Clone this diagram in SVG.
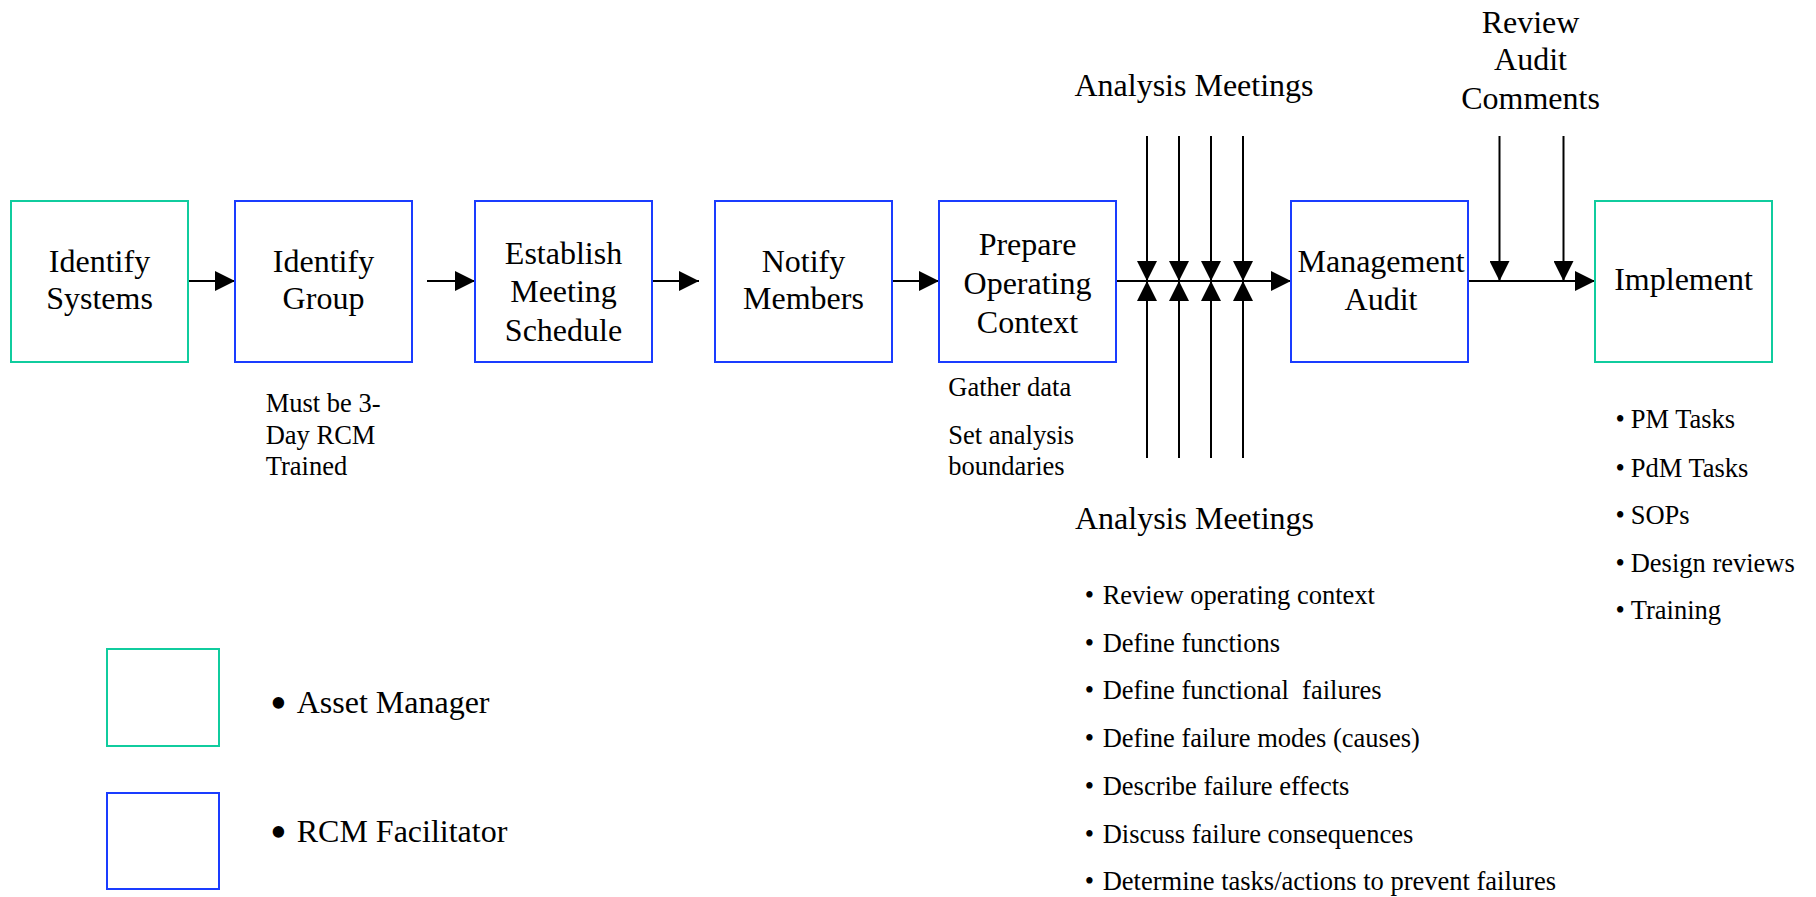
<svg xmlns="http://www.w3.org/2000/svg" width="1816" height="897" viewBox="0 0 1816 897">
  <style>
    text { font-family: "Liberation Serif", "Times New Roman", serif; fill: #000; }
    .big { font-size: 32px; }
    .mid { text-anchor: middle; }
    .note { font-size: 26.5px; }
    .am { fill: #fff; stroke: #10CC9E; stroke-width: 2; }
    .fac { fill: #fff; stroke: #1A3CFF; stroke-width: 2; }
    .wire { stroke: #000; stroke-width: 2; fill: none; marker-end: url(#head); }
  </style>
  <defs>
    <marker id="head" markerUnits="userSpaceOnUse" markerWidth="20" markerHeight="20" refX="20" refY="10" orient="auto" viewBox="0 0 20 20">
      <path d="M0,0 L20,10 L0,20 Z" fill="#000"/>
    </marker>
  </defs>
  <rect width="1816" height="897" fill="#fff"/>

  <!-- connectors -->
  <g id="connectors">
    <line class="wire" x1="188" y1="281" x2="235" y2="281"/>
    <line class="wire" x1="427" y1="281" x2="475" y2="281"/>
    <line class="wire" x1="651" y1="281" x2="699" y2="281"/>
    <line class="wire" x1="892" y1="281" x2="939" y2="281"/>
    <line class="wire" x1="1116" y1="281" x2="1291" y2="281"/>
    <line class="wire" x1="1468" y1="281" x2="1595" y2="281"/>
    <!-- analysis meetings feeding in from above -->
    <line class="wire" x1="1147" y1="136" x2="1147" y2="281"/>
    <line class="wire" x1="1179" y1="136" x2="1179" y2="281"/>
    <line class="wire" x1="1211" y1="136" x2="1211" y2="281"/>
    <line class="wire" x1="1243" y1="136" x2="1243" y2="281"/>
    <!-- analysis meetings feeding in from below -->
    <line class="wire" x1="1147" y1="458" x2="1147" y2="281"/>
    <line class="wire" x1="1179" y1="458" x2="1179" y2="281"/>
    <line class="wire" x1="1211" y1="458" x2="1211" y2="281"/>
    <line class="wire" x1="1243" y1="458" x2="1243" y2="281"/>
    <!-- audit comments -->
    <line class="wire" x1="1499.5" y1="136" x2="1499.5" y2="281"/>
    <line class="wire" x1="1563.5" y1="136" x2="1563.5" y2="281"/>
  </g>

  <g id="identify-systems">
    <rect class="am" x="11" y="201" width="177" height="161"/>
    <text class="big mid" x="99.5" y="272">Identify</text>
    <text class="big mid" x="99.5" y="309">Systems</text>
  </g>

  <g id="identify-group">
    <rect class="fac" x="235" y="201" width="177" height="161"/>
    <text class="big mid" x="323.5" y="272">Identify</text>
    <text class="big mid" x="323.5" y="309">Group</text>
    <text class="note" x="265.7" y="412">Must be 3-</text>
    <text class="note" x="265.7" y="443.5">Day RCM</text>
    <text class="note" x="265.7" y="475">Trained</text>
  </g>

  <g id="establish-schedule">
    <rect class="fac" x="475" y="201" width="177" height="161"/>
    <text class="big mid" x="563.5" y="263.5">Establish</text>
    <text class="big mid" x="563.5" y="302">Meeting</text>
    <text class="big mid" x="563.5" y="340.5">Schedule</text>
  </g>

  <g id="notify-members">
    <rect class="fac" x="715" y="201" width="177" height="161"/>
    <text class="big mid" x="803.5" y="272">Notify</text>
    <text class="big mid" x="803.5" y="309">Members</text>
  </g>

  <g id="prepare-context">
    <rect class="fac" x="939" y="201" width="177" height="161"/>
    <text class="big mid" x="1027.5" y="255">Prepare</text>
    <text class="big mid" x="1027.5" y="293.5">Operating</text>
    <text class="big mid" x="1027.5" y="332.5">Context</text>
    <text class="note" x="948.3" y="396">Gather data</text>
    <text class="note" x="948.3" y="444">Set analysis</text>
    <text class="note" x="948.3" y="475">boundaries</text>
  </g>

  <g id="analysis-meetings">
    <text class="big mid" x="1194" y="96">Analysis Meetings</text>
    <text class="big mid" x="1194.5" y="529">Analysis Meetings</text>
    <g class="note">
      <text x="1084.7" y="604">•<tspan x="1102.7">Review operating context</tspan></text>
      <text x="1084.7" y="651.7">•<tspan x="1102.7">Define functions</tspan></text>
      <text x="1084.7" y="699.3" xml:space="preserve">•<tspan x="1102.7">Define functional  failures</tspan></text>
      <text x="1084.7" y="747">•<tspan x="1102.7">Define failure modes (causes)</tspan></text>
      <text x="1084.7" y="795">•<tspan x="1102.7">Describe failure effects</tspan></text>
      <text x="1084.7" y="843">•<tspan x="1102.7">Discuss failure consequences</tspan></text>
      <text x="1084.7" y="890">•<tspan x="1102.7">Determine tasks/actions to prevent failures</tspan></text>
    </g>
  </g>

  <g id="management-audit">
    <rect class="fac" x="1291" y="201" width="177" height="161"/>
    <text class="big mid" x="1381" y="272">Management</text>
    <text class="big mid" x="1381" y="309.5">Audit</text>
  </g>

  <g id="review-comments">
    <text class="big mid" x="1530.5" y="32.5">Review</text>
    <text class="big mid" x="1530.5" y="70">Audit</text>
    <text class="big mid" x="1530.5" y="108.5">Comments</text>
  </g>

  <g id="implement">
    <rect class="am" x="1595" y="201" width="177" height="161"/>
    <text class="big mid" x="1683.5" y="290">Implement</text>
    <g class="note">
      <text x="1615.4" y="428.3">•<tspan x="1630.7">PM Tasks</tspan></text>
      <text x="1615.4" y="476.5">•<tspan x="1630.7">PdM Tasks</tspan></text>
      <text x="1615.4" y="524">•<tspan x="1630.7">SOPs</tspan></text>
      <text x="1615.4" y="571.7">•<tspan x="1630.7">Design reviews</tspan></text>
      <text x="1615.4" y="619.3">•<tspan x="1630.7">Training</tspan></text>
    </g>
  </g>

  <g id="legend">
    <g id="legend-asset-manager">
      <rect class="am" x="107" y="649" width="112" height="97"/>
      <text x="270" y="719" font-size="48">•</text>
      <text class="big" x="296.7" y="713">Asset Manager</text>
    </g>
    <g id="legend-rcm-facilitator">
      <rect class="fac" x="107" y="793" width="112" height="96"/>
      <text x="270" y="848" font-size="48">•</text>
      <text class="big" x="296.7" y="842">RCM Facilitator</text>
    </g>
  </g>
</svg>
